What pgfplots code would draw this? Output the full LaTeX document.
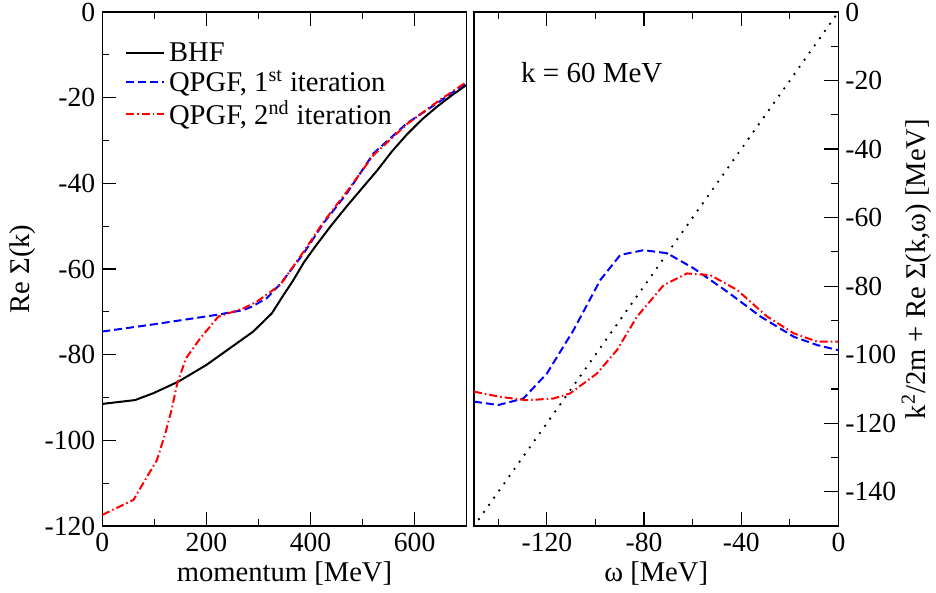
\documentclass[border=0pt]{standalone}
\usepackage{fontspec}
\setmainfont{Liberation Serif}
\usepackage{pgfplots}
\pgfplotsset{compat=1.18}
\begin{document}
\begin{tikzpicture}
\pgfplotsset{
  every axis/.append style={
    scale only axis, width=182.2pt, height=257pt,
    axis line style={line width=0.75pt},
    every tick/.style={line width=0.6pt, black},
    major tick length=7pt, minor tick length=3.5pt,
    tick align=inside,
    tick label style={font=\fontsize{13.8}{16}\selectfont},
    label style={font=\fontsize{14.3}{16}\selectfont},
    /pgf/number format/assume math mode=true,
    /pgf/number format/set thousands separator={},
  },
}
\begin{axis}[at={(0,0)},
  xmin=0, xmax=700, ymin=-120, ymax=0,
  xtick={0,200,400,600}, minor xtick={100,300,500},
  ytick={-120,-100,...,0}, minor ytick={-110,-90,...,-10},
  xtick pos=both, xticklabel pos=bottom,
  ytick pos=left, yticklabel pos=left,
  xlabel={momentum [MeV]}, ylabel={Re Σ(k)},
  xlabel style={at={(axis description cs:0.5,0)}, anchor=center, yshift=-23.5pt},
  ylabel style={at={(axis description cs:-0.2195,0.5)}, anchor=center},
  legend style={draw=none, fill=none, at={(0.045,0.957)}, anchor=north west,
    font=\fontsize{14.3}{16}\selectfont, row sep=-1.2pt,
    nodes={inner sep=2pt}},
  legend cell align=left,
  legend image code/.code={\draw[#1] (0pt,0pt) -- (19pt,0pt);},
]
\addplot[black, line width=1pt] coordinates {
(0,-91.5) (63,-90.6) (98,-89.0) (146,-86.3) (200,-82.4) (245,-78.5) (290,-74.6)
(326,-70.3) (348,-66.1) (367,-62.6) (387,-58.5) (410,-54.6) (440,-49.8) (470,-45.3) (500,-41.0) (528,-37.0)
(556,-32.6) (585,-28.6) (614,-25.1) (643,-22.1) (672,-19.4) (700,-17.0)};
\addlegendentry{BHF}
\addplot[blue, line width=1pt, dash pattern=on 4pt off 2pt] coordinates {
(0,-74.6) (100,-72.9) (220,-70.7) (271,-69.6) (287,-68.8) (316,-66.8) (342,-63.5)
(387,-56.3) (425,-49.3) (470,-42.3) (521,-33.0) (585,-26.0) (643,-21.3) (700,-16.5)};
\addlegendentry{QPGF, 1\textsuperscript{st} iteration}
\addplot[red, line width=1pt, dash pattern=on 4pt off 1.5pt on 0.8pt off 1.5pt] coordinates {
(0,-117.4) (60,-113.9) (82,-109.3) (105,-104.6) (121,-98.4) (133,-92.9) (144,-86.7)
(161,-80.8) (188,-76.2) (223,-71.1) (271,-69.2) (297,-67.6) (342,-63.7)
(387,-55.9) (425,-49.0) (470,-41.9) (521,-33.4) (585,-26.2) (643,-21.0) (700,-16.3)};
\addlegendentry{QPGF, 2\textsuperscript{nd} iteration}
\end{axis}
\begin{axis}[at={(185.85pt,0)},
  xmin=-150, xmax=0, ymin=-150, ymax=0,
  xtick={-120,-80,-40,0}, minor xtick={-140,-100,-60,-20},
  ytick={-140,-120,...,0}, minor ytick={-150,-130,...,-10},
  xtick pos=both, xticklabel pos=bottom,
  ytick pos=right, yticklabel pos=right,
  xlabel={ω [MeV]}, ylabel={k\textsuperscript{2}/2m + Re Σ(k,ω) [MeV]},
  xlabel style={at={(axis description cs:0.5,0)}, anchor=center, yshift=-23.5pt},
  ylabel style={at={(axis description cs:1.214,0.5)}, anchor=center},
]
\addplot[black, line width=1.3pt, line cap=round, dash pattern=on 0pt off 4.4pt] coordinates {
(-148,-148) (0,0)};
\addplot[blue, line width=1pt, dash pattern=on 4pt off 2pt] coordinates {
(-150,-113.7) (-140,-114.7) (-129.7,-112.8) (-120,-105.5) (-109,-92.8) (-98,-78.2)
(-89.8,-70.9) (-80.2,-69.5) (-70.5,-70.4) (-59.6,-74.8) (-45.8,-81.6) (-32,-88.9)
(-18.3,-94.8) (-8.7,-97.2) (0,-98.7)};
\addplot[red, line width=1pt, dash pattern=on 4pt off 1.5pt on 0.8pt off 1.5pt] coordinates {
(-150,-110.8) (-139.3,-112.3) (-128.3,-113.3) (-117.3,-112.8) (-110.4,-111.3)
(-99.4,-105.5) (-91.2,-98.7) (-82.9,-88.9) (-71.9,-79.7) (-62.3,-76.3) (-52.7,-76.8)
(-41.7,-81.1) (-29.3,-88.9) (-18.3,-93.8) (-8.7,-96.2) (0,-96.2)};
\node[font=\fontsize{14.5}{16}\selectfont, anchor=center] at (axis cs:-101.5,-17.8) {k = 60 MeV};
\end{axis}
\pgfresetboundingbox
\path[use as bounding box] (-51.15pt,-33.5pt) rectangle (416.85pt,263pt);
\end{tikzpicture}
\end{document}
